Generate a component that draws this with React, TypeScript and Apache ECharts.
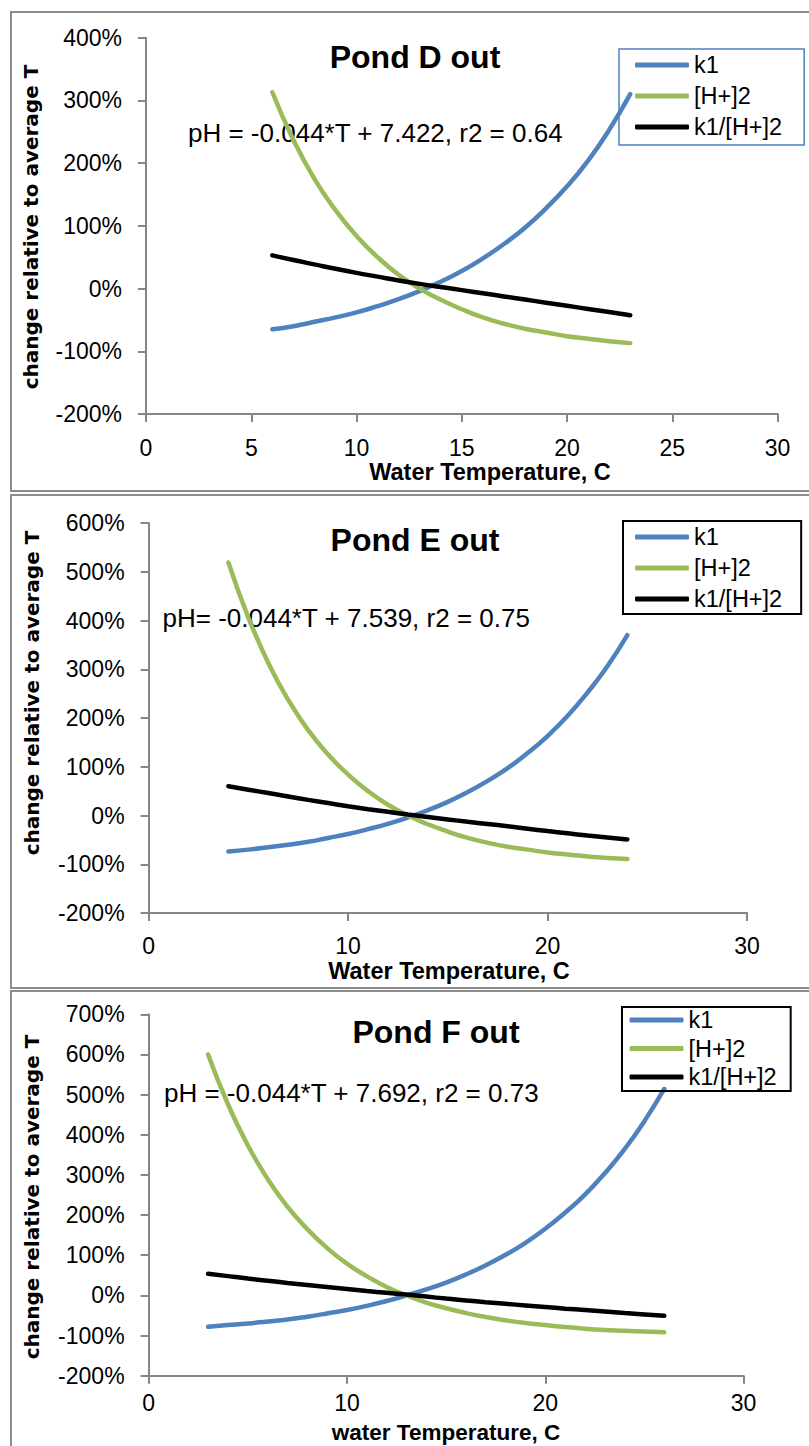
import React, { useEffect, useRef } from "react";
import * as echarts from "echarts";

// ---------- data ----------
const tempsD = [6, 7, 8, 9, 10, 11, 12, 13, 14, 15, 16, 17, 18, 19, 20, 21, 22, 23];
const k1D = [-65, -60, -53, -46, -38, -28, -17, -4, 11, 28, 48, 71, 97, 128, 163, 204, 253, 310];
const h2D = [313, 237, 175, 125, 84, 50, 22, 0, -18, -33, -46, -56, -64, -70, -76, -80, -84, -87];
const ratioD = [53, 45.5, 38.5, 31.5, 25, 19, 13, 7.5, 2.5, -2.5, -7.5, -12.5, -17.5, -22.5, -27.5, -32.5, -37.5, -42.5];

const tempsE = [4, 5, 6, 7, 8, 9, 10, 11, 12, 13, 14, 15, 16, 17, 18, 19, 20, 21, 22, 23, 24];
const k1E = [-74, -70, -65, -60, -54, -46, -38, -28, -17, -4, 11, 28, 48, 71, 97, 128, 163, 204, 252, 306, 370];
const h2E = [519, 406, 313, 237, 175, 125, 84, 50, 22, 0, -18, -33, -46, -56, -64, -70, -76, -80, -84, -87, -89];
const ratioE = [60, 53, 46, 39, 32, 25.5, 19, 13, 7.5, 2, -3, -8, -13, -17.5, -22, -27, -32, -36.5, -41, -45, -49];

const tempsF = [3, 4, 5, 6, 7, 8, 9, 10, 11, 12, 13, 14, 15, 16, 17, 18, 19, 20, 21, 22, 23, 24, 25, 26];
const k1F = [-78, -74, -70, -65, -60, -53, -45, -36.5, -26, -14, 0, 15, 32, 52, 75, 101, 131, 166, 206, 251, 304, 364, 434, 514];
const h2F = [600, 476, 374, 290, 221, 165, 118, 79, 48, 21, 0, -18, -32, -44, -54, -62, -69, -74, -79, -83, -86, -88, -90, -92];
const ratioF = [54, 48, 42, 36.5, 31, 26, 21, 16, 11, 6.5, 2, -3, -8, -12.5, -17, -21, -25, -29, -33, -36.5, -40, -44, -47.5, -51];

const seriesNames = ["k1", "[H+]2", "k1/[H+]2"];
const seriesColors = ["#4F81BD", "#9BBB59", "#000000"];

const titles = ["Pond D out", "Pond E out", "Pond F out"];
const equations = [
  "pH = -0.044*T + 7.422, r2 = 0.64",
  "pH= -0.044*T + 7.539, r2 = 0.75",
  "pH = -0.044*T + 7.692, r2 = 0.73",
];
const xNames = ["Water Temperature, C", "Water Temperature, C", "water Temperature, C"];
const yName = "change relative to average T";

const xMin = 0;
const xMax = 30;
const xIntervals = [5, 10, 10];
const yMins = [-200, -200, -200];
const yMaxs = [400, 600, 700];
const yInterval = 100;

// ---------- layout ----------
const FONT = '"Liberation Sans", Arial, sans-serif';
const AXIS_COLOR = "#868686";

const layout = [
  {
    grid: { left: 146, top: 37.7, width: 631.6, height: 376.3 },
    xMargin: 22,
    legend: { left: 619, top: 49, padding: [4, 22, 6, 16], gap: 7, border: "#4F81BD", bw: 1.5 },
    title: { x: 415, y: 57 },
    eq: { x: 188, y: 133 },
    xl: { x: 490, y: 472, size: 23.5 },
    yl: { x: 31, y: 227 },
    box: { y: 12, h: 479, lw: 2 },
  },
  {
    grid: { left: 148.6, top: 523, width: 598.4, height: 390 },
    xMargin: 21,
    legend: { left: 623, top: 521, padding: [4, 19, 3, 12], gap: 7, border: "#000000", bw: 2 },
    title: { x: 415, y: 540 },
    eq: { x: 162.5, y: 618 },
    xl: { x: 449, y: 971, size: 23.5 },
    yl: { x: 32, y: 693 },
    box: { y: 495, h: 493, lw: 2 },
  },
  {
    grid: { left: 148.6, top: 1014.3, width: 595, height: 361.4 },
    xMargin: 16,
    legend: { left: 622, top: 1007, padding: [1, 14, 2, 7.5], gap: 4.5, border: "#000000", bw: 2 },
    title: { x: 436, y: 1032 },
    eq: { x: 164, y: 1093 },
    xl: { x: 446, y: 1432, size: 22.5 },
    yl: { x: 32, y: 1197 },
    box: { y: 991, h: 480, lw: 2 },
  },
];

const panelData = [
  { t: tempsD, v: [k1D, h2D, ratioD] },
  { t: tempsE, v: [k1E, h2E, ratioE] },
  { t: tempsF, v: [k1F, h2F, ratioF] },
];

function buildOption() {
  const grids: any[] = [];
  const xAxes: any[] = [];
  const yAxes: any[] = [];
  const series: any[] = [];
  const legends: any[] = [];
  const graphics: any[] = [];

  layout.forEach((L, i) => {
    grids.push({ ...L.grid, containLabel: false });
    xAxes.push({
      type: "value",
      gridIndex: i,
      min: xMin,
      max: xMax,
      interval: xIntervals[i],
      axisLine: { show: true, onZero: false, lineStyle: { color: AXIS_COLOR, width: 2 } },
      axisTick: { show: true, inside: false, length: 8, lineStyle: { color: AXIS_COLOR, width: 2 } },
      axisLabel: { margin: L.xMargin, fontSize: 23, fontFamily: FONT, color: "#000" },
      splitLine: { show: false },
    });
    yAxes.push({
      type: "value",
      gridIndex: i,
      min: yMins[i],
      max: yMaxs[i],
      interval: yInterval,
      axisLine: { show: true, onZero: false, lineStyle: { color: AXIS_COLOR, width: 2 } },
      axisTick: { show: true, inside: false, length: 8, lineStyle: { color: AXIS_COLOR, width: 2 } },
      axisLabel: { margin: 24, fontSize: 23, fontFamily: FONT, color: "#000", formatter: "{value}%" },
      splitLine: { show: false },
    });
    const P = panelData[i];
    seriesNames.forEach((name, s) => {
      series.push({
        type: "line",
        name,
        xAxisIndex: i,
        yAxisIndex: i,
        data: P.t.map((x, j) => [x, P.v[s][j]]),
        smooth: true,
        symbol: "none",
        showSymbol: false,
        color: seriesColors[s],
        lineStyle: { color: seriesColors[s], width: 4.5, cap: "round" },
      });
    });
    legends.push({
      orient: "vertical",
      left: L.legend.left,
      top: L.legend.top,
      padding: L.legend.padding,
      itemGap: L.legend.gap,
      itemWidth: 54,
      itemHeight: 5,
      icon: "roundRect",
      borderColor: L.legend.border,
      borderWidth: L.legend.bw,
      borderRadius: 0,
      data: seriesNames,
      textStyle: { fontSize: 23.5, fontFamily: FONT, color: "#000", lineHeight: 24 },
    });

    graphics.push({
      type: "rect",
      silent: true,
      z: -10,
      shape: { x: 11, y: L.box.y, width: 830, height: L.box.h },
      style: { fill: "none", stroke: "#8c8c8c", lineWidth: L.box.lw },
    });
    graphics.push({
      type: "text",
      silent: true,
      x: L.title.x,
      y: L.title.y,
      style: {
        text: titles[i],
        fill: "#000",
        font: `bold 32px ${FONT}`,
        textAlign: "center",
        textVerticalAlign: "middle",
      },
    });
    graphics.push({
      type: "text",
      silent: true,
      x: L.eq.x,
      y: L.eq.y,
      style: {
        text: equations[i],
        fill: "#000",
        font: `26px ${FONT}`,
        textAlign: "left",
        textVerticalAlign: "middle",
      },
    });
    graphics.push({
      type: "text",
      silent: true,
      x: L.xl.x,
      y: L.xl.y,
      style: {
        text: xNames[i],
        fill: "#000",
        font: `bold ${L.xl.size}px ${FONT}`,
        textAlign: "center",
        textVerticalAlign: "middle",
      },
    });
    graphics.push({
      type: "text",
      silent: true,
      x: L.yl.x,
      y: L.yl.y,
      rotation: Math.PI / 2,
      style: {
        text: yName,
        fill: "#000",
        font: `bold 20px "DejaVu Sans", Verdana, sans-serif`,
        textAlign: "center",
        textVerticalAlign: "middle",
      },
    });
  });

  return {
    animation: false,
    backgroundColor: "#ffffff",
    grid: grids,
    xAxis: xAxes,
    yAxis: yAxes,
    legend: legends,
    series,
    graphic: { elements: graphics },
  };
}

export default function App() {
  const ref = useRef<HTMLDivElement>(null);
  useEffect(() => {
    if (!ref.current) return;
    const chart = echarts.init(ref.current, null, { renderer: "svg" });
    chart.setOption(buildOption() as any);
    return () => chart.dispose();
  }, []);
  return (
    <div
      ref={ref}
      style={{ position: "absolute", left: 0, top: 0, width: 809, height: 1446, background: "#fff" }}
    />
  );
}
